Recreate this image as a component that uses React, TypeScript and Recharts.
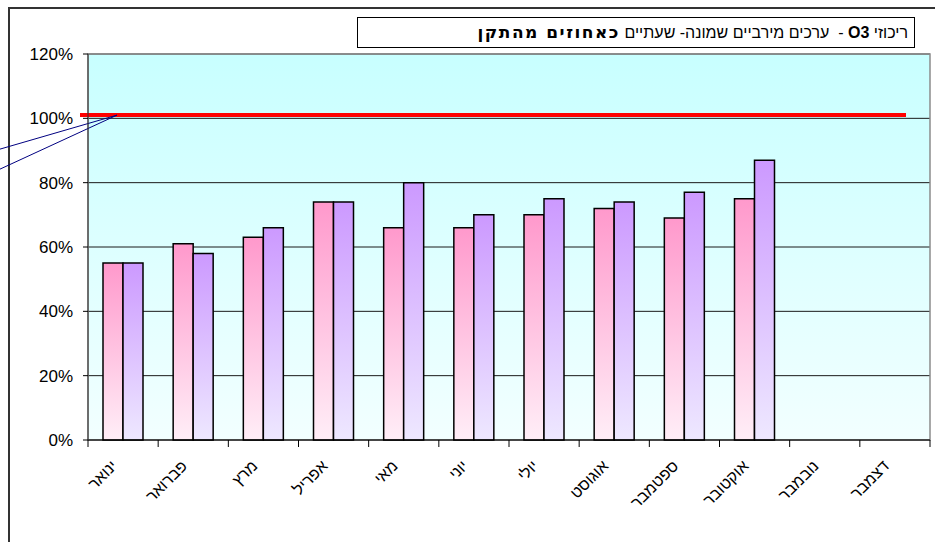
import React from "react";
import {
  BarChart,
  Bar,
  XAxis,
  YAxis,
  CartesianGrid,
  ReferenceLine,
  ReferenceArea,
} from "recharts";

// monthly O3 values, percent of the standard
const months = [
  "ינואר",
  "פברואר",
  "מרץ",
  "אפריל",
  "מאי",
  "יוני",
  "יולי",
  "אוגוסט",
  "ספטמבר",
  "אוקטובר",
  "נובמבר",
  "דצמבר",
];
const stationA = [55, 61, 63, 74, 66, 66, 70, 72, 69, 75, null, null];
const stationB = [55, 58, 66, 74, 80, 70, 75, 74, 77, 87, null, null];
const yTicks = [0, 20, 40, 60, 80, 100, 120];
const standardLevel = 101;

const data = months.map((month, i) => ({
  month,
  a: stationA[i],
  b: stationB[i],
}));

const FONT = '"Liberation Sans", Arial, sans-serif';

const MonthTick = (props: any) => {
  const { x, y, payload, index } = props;
  const half = payload.offset ?? 35;
  const last = index === months.length - 1;
  const tx = x - 5;
  const ty = y + 27;
  return (
    <g>
      <line x1={x - half} y1={y} x2={x - half} y2={y + 7} stroke="#000" />
      {last && <line x1={x + half} y1={y} x2={x + half} y2={y + 7} stroke="#000" />}
      <text
        x={tx}
        y={ty}
        textAnchor="end"
        fontSize={16}
        fontFamily={FONT}
        fill="#000"
        transform={`rotate(-45, ${tx}, ${ty})`}
      >
        {payload.value}
      </text>
    </g>
  );
};

// red standard line, slightly longer on the left, plus the callout leaders
const StandardLine = (props: any) => {
  const { x1, x2, y1 } = props;
  return (
    <g>
      <line x1={x1 - 8} y1={y1} x2={x2 - 24} y2={y1} stroke="#ff0000" strokeWidth={4} />
      <line x1={x1 + 29} y1={y1} x2={0} y2={y1 + 34} stroke="#000080" strokeWidth={1} />
      <line x1={x1 + 29} y1={y1} x2={0} y2={y1 + 54} stroke="#000080" strokeWidth={1} />
    </g>
  );
};

const App: React.FC = () => {
  return (
    <div
      style={{
        position: "absolute",
        left: 0,
        top: 0,
        width: 935,
        height: 542,
        background: "#fff",
        fontFamily: FONT,
      }}
    >
      <div
        style={{
          position: "absolute",
          left: 8,
          top: 7,
          width: 927,
          height: 535,
          borderTop: "2px solid #333",
          borderLeft: "2px solid #333",
        }}
      />
      <BarChart
        width={935}
        height={542}
        data={data}
        margin={{ top: 54, right: 5, bottom: 42, left: 28 }}
        barSize={20}
        barGap={0}
        style={{ position: "absolute", left: 0, top: 0 }}
      >
        <defs>
          <linearGradient id="plotBg" x1="0" y1="0" x2="0" y2="1">
            <stop offset="0%" stopColor="#c8ffff" />
            <stop offset="100%" stopColor="#f2ffff" />
          </linearGradient>
          <linearGradient id="pinkBar" x1="0" y1="0" x2="0" y2="1">
            <stop offset="0%" stopColor="#ff99cc" />
            <stop offset="100%" stopColor="#ffeef7" />
          </linearGradient>
          <linearGradient id="purpleBar" x1="0" y1="0" x2="0" y2="1">
            <stop offset="0%" stopColor="#cc99ff" />
            <stop offset="100%" stopColor="#eee8ff" />
          </linearGradient>
        </defs>
        <CartesianGrid
          vertical={false}
          stroke="#1a1a1a"
          fill="url(#plotBg)"
          fillOpacity={1}
        />
        <ReferenceArea y1={0} y2={120} fill="none" stroke="#8c8c8c" strokeWidth={1.5} />
        <XAxis
          dataKey="month"
          interval={0}
          tickLine={false}
          tickSize={0}
          tickMargin={0}
          height={60}
          axisLine={{ stroke: "#000" }}
          tick={<MonthTick />}
        />
        <YAxis
          domain={[0, 120]}
          ticks={yTicks}
          width={60}
          tickSize={5}
          tickMargin={10}
          tickFormatter={(v: number) => `${v}%`}
          axisLine={{ stroke: "#333" }}
          tickLine={{ stroke: "#000" }}
          tick={{ fontSize: 17, fill: "#000", fontFamily: FONT }}
        />
        <Bar
          dataKey="a"
          fill="url(#pinkBar)"
          stroke="#000"
          strokeWidth={1.5}
          isAnimationActive={false}
        />
        <Bar
          dataKey="b"
          fill="url(#purpleBar)"
          stroke="#000"
          strokeWidth={1.5}
          isAnimationActive={false}
        />
        <ReferenceLine y={standardLevel} shape={<StandardLine />} />
      </BarChart>
      <div
        style={{
          position: "absolute",
          left: 357,
          top: 17,
          width: 558,
          height: 31,
          border: "1px solid #000",
          background: "#fff",
          direction: "rtl",
          fontSize: 16,
          lineHeight: "29px",
          paddingRight: 6,
          boxSizing: "border-box",
          color: "#000",
          whiteSpace: "nowrap",
        }}
      >
        ריכוזי <b>O3</b> -&nbsp; ערכים מירביים שמונה- שעתיים{" "}
        <b style={{ fontFamily: '"DejaVu Sans", sans-serif', fontSize: 17, letterSpacing: 1.5 }}>
          כאחוזים מהתקן
        </b>
      </div>
    </div>
  );
};

export default App;
